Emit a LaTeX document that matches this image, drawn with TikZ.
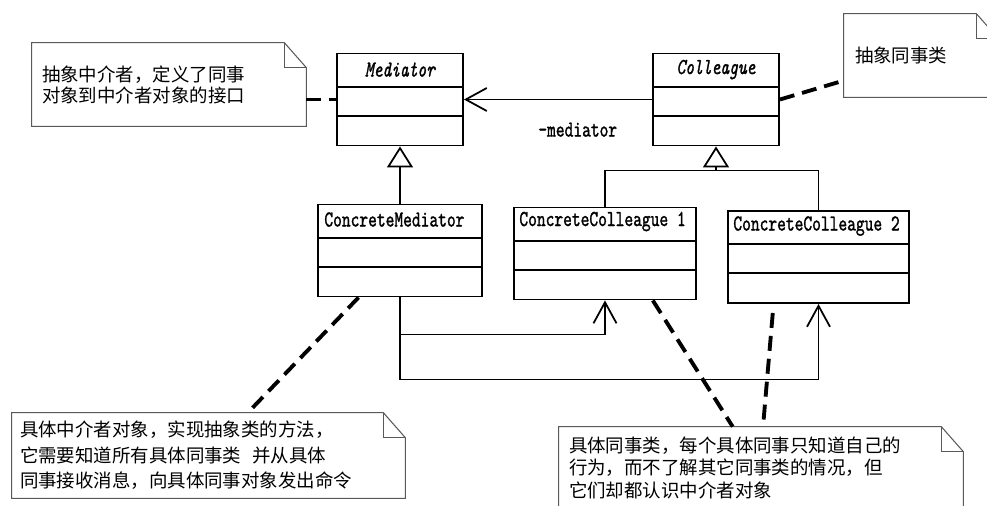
\documentclass[tikz,border=0pt]{standalone}
\usepackage{fontspec}
\setmainfont{Noto Sans CJK SC}
\newfontfamily\umlmono{lmmono10-regular.otf}[FakeStretch=0.73,FakeBold=1.2,ItalicFont=lmmono10-italic.otf]
\usetikzlibrary{arrows.meta,calc,positioning}

\tikzstyle{umlclass} = [rectangle, draw=black, line width=1.1pt, inner sep=0pt, minimum height=1.84cm]
\tikzstyle{umltitle} = [inner sep=0pt, font=\umlmono\fontsize{13}{14}\selectfont]
\tikzstyle{umlnote} = [rectangle, inner ysep=0pt, align=left, font=\fontsize{10.5}{11.9}\selectfont]
\tikzstyle{noteline} = [draw=black!65, line width=0.6pt]
\tikzstyle{notelink} = [line width=2.2pt, dash pattern=on 0.3cm off 0.16cm]
\tikzstyle{tree} = [line width=0.7pt]
\tikzstyle{assoc} = [line width=0.7pt, -{Straight Barb[length=0.42cm,width=0.46cm,line width=1pt]}]
\tikzstyle{inherit} = [line width=0.7pt, -{Triangle[open,length=0.42cm,width=0.52cm,line width=1pt]}]

% outline of a note with folded corner
\newcommand{\drawnote}[1]{%
  \draw[noteline] (#1.north west) -- ($(#1.north east)+(-22,0)$) -- ($(#1.north east)+(0,25)$)
    -- (#1.south east) -- (#1.south west) -- cycle;
  \draw[noteline] ($(#1.north east)+(-22,0)$) -- ($(#1.north east)+(-22,25)$) -- ($(#1.north east)+(0,25)$);
}
% the two compartment lines of a class box
\newcommand{\compartments}[1]{%
  \draw[line width=1.1pt] ($(#1.north west)+(0,34)$) -- ($(#1.north east)+(0,34)$);
  \draw[line width=1.1pt] ($(#1.north west)+(0,63)$) -- ($(#1.north east)+(0,63)$);
}

\begin{document}
\begin{tikzpicture}[x=0.02cm, y=-0.02cm]
\useasboundingbox (0,0) rectangle (987,506);
\clip (0,0) rectangle (987,506);

% classes
\node (med) [umlclass, minimum width=2.52cm] at (400,99.5) {};
\node (coll) [umlclass, minimum width=2.52cm] at (716,99.5) {};
\node (cm) [umlclass, minimum width=3.28cm] at (400,250.5) {};
\node (cc1) [umlclass, minimum width=3.64cm] at (605,253.5) {};
\node (cc2) [umlclass, minimum width=3.62cm] at (818.5,257) {};
\compartments{med}
\compartments{coll}
\compartments{cm}
\compartments{cc1}
\compartments{cc2}

\node (medTitle) [umltitle] at ($(med.north)+(0,17)$) {\itshape Mediator};
\node (collTitle) [umltitle] at ($(coll.north)+(0,17)$) {\itshape Colleague};
\node (cmTitle) [umltitle, anchor=west] at ($(cm.north west)+(7,16)$) {ConcreteMediator};
\node (cc1Title) [umltitle, anchor=west] at ($(cc1.north west)+(6,15)$) {ConcreteColleague 1};
\node (cc2Title) [umltitle, anchor=west] at ($(cc2.north west)+(6,16)$) {ConcreteColleague 2};

% notes
\node (noteMed) [umlnote, inner xsep=0.2cm, text width=5.08cm, minimum height=1.66cm] at (169,84.5)
{抽象中介者，定义了同事\\对象到中介者对象的接口};
\node (noteColl) [umlnote, inner xsep=0.22cm, text width=2.64cm, minimum height=1.66cm] at (921,55.5)
{抽象同事类};
\node (noteCM) [umlnote, inner xsep=0.16cm, text width=7.54cm, minimum height=1.70cm,
  font=\fontsize{10.5}{14.5}\selectfont] at (208.5,455.5)
{具体中介者对象，实现抽象类的方法，\\它需要知道所有具体同事类\hspace{0.6em}并从具体\\同事接收消息，向具体同事对象发出命令};
\node (noteCC) [umlnote, inner xsep=0.2cm, text width=7.68cm, minimum height=1.62cm,
  font=\fontsize{10.5}{12.8}\selectfont] at (761,467.5)
{具体同事类，每个具体同事只知道自己的\\行为，而不了解其它同事类的情况，但\\它们却都认识中介者对象};
\drawnote{noteMed}
\drawnote{noteColl}
\drawnote{noteCM}
\drawnote{noteCC}

% relations
\draw [assoc] (coll.west) -- node[umltitle, pos=0.395, below=0.45cm] (medRole) {-mediator} (med.east);
\draw [inherit] (cm.north) -- (med.south);
\coordinate (collJoin) at ($(coll.south)+(0,24)$);
\draw [tree] (cc1.north) |- (collJoin) -| (cc2.north);
\draw [inherit] (collJoin) -- (coll.south);
\draw [assoc] (cm.south) -- ++(0,37) -| (cc1.south);
\draw [assoc] (cm.south) -- ++(0,82) -| (cc2.south);

% note links
\draw [notelink] (noteMed.east |- med.west) -- (med.west);
\draw [notelink] (coll.east) -- ($(noteColl.south west)!0.2!(noteColl.north west)$);
\draw [notelink] ($(cm.south west)!0.25!(cm.south east)$) -- ($(noteCM.north west)!0.6!(noteCM.north east)$);
\draw [notelink] ($(cc1.south west)!0.76!(cc1.south east)$) -- ($(noteCC.north west)!0.43!(noteCC.north east)$);
\draw [notelink] ($(cc2.south west)!0.25!(cc2.south east)+(0,9)$) -- ($(noteCC.north west)!0.505!(noteCC.north east)$);
\end{tikzpicture}
\end{document}
